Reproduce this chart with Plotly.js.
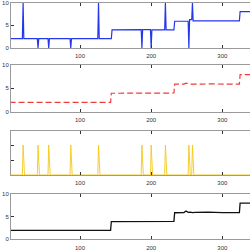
<!DOCTYPE html>
<html>
<head>
<meta charset="utf-8">
<script src="https://cdn.plot.ly/plotly-3.0.1.min.js"></script>
<style>
  html, body { margin: 0; padding: 0; background: #fff; overflow: hidden; }
  #chart { width: 250px; height: 262px; }
</style>
</head>
<body>
<div id="chart"></div>
<script>
// Raw signal (with outliers)
const rawX = [1, 19, 20, 21, 40, 41, 42, 55, 56, 57, 86, 87, 88, 125, 126, 127, 144, 145,
              186, 187, 188, 199, 200, 201, 219, 220, 221, 232, 233, 252, 253, 254, 257, 258, 259,
              270, 275, 280, 324, 325, 345];
const rawY = [2.05, 2.05, 10, 2.05, 2.05, 0, 2.05, 2.05, 0, 2.05, 2.05, 0, 2.05, 2.05, 10, 2.05, 2.05, 4.0,
              4.05, 0, 4.05, 4.05, 0, 4.0, 4.0, 10, 4.0, 4.0, 5.9, 5.9, 0, 6.25, 6.25, 10, 6.0,
              6.0, 6.1, 6.0, 6.0, 8.05, 8.05];

// Median-filtered signal
const medX = [1, 60, 62, 110, 143, 144, 190, 195, 232, 233, 246, 249, 252, 256, 270, 280, 324, 325, 345];
const medY = [2.0, 2.0, 2.05, 2.0, 2.0, 3.95, 3.95, 4.0, 4.0, 5.9, 5.9, 6.1, 6.0, 5.9, 5.9, 5.95, 5.9, 7.95, 7.95];

// Outlier positions (flag = 1)
const outlierX = [20, 41, 56, 87, 126, 187, 200, 220, 253, 258];
const flagX = [];
for (let i = 1; i <= 345; i++) flagX.push(i);
const flagY = flagX.map(v => outlierX.includes(v) ? 1 : 0);

// Cleaned signal
const cleanX = [1, 21, 23, 25, 54, 56, 58, 79, 81, 83, 106, 108, 110, 143, 144, 170, 172, 190, 195, 232, 233,
                240, 246, 249, 252, 255, 258, 262, 270, 280, 300, 324, 325, 345];
const cleanY = [2.0, 2.0, 2.12, 2.0, 2.0, 2.12, 2.0, 2.0, 2.12, 2.0, 2.0, 2.12, 2.0, 2.0, 3.95, 3.95, 4.05, 4.0, 4.05, 4.0, 5.9,
                5.85, 5.95, 6.3, 6.0, 6.05, 5.95, 6.0, 5.95, 6.05, 5.95, 5.95, 8.05, 8.05];

const xTicks = [100, 200, 300];
const yTicks = [0, 5, 10];
const flagTicks = [0.5, 1];

const lineCol = '#9a9a9a', tickCol = '#333';
const font = { family: 'Arial, Liberation Sans, sans-serif', size: 6, color: '#333' };

function xa(anchor) {
  return {
    anchor: anchor, range: [3, 338.9], tickvals: xTicks, ticks: 'inside', ticklen: 3,
    tickcolor: tickCol, showline: true, linecolor: lineCol, linewidth: 1, mirror: 'ticks',
    showgrid: false, zeroline: false, tickfont: font, ticklabeloverflow: 'allow',
    ticklabelstandoff: 2
  };
}
function ya(domain, range, ticks, labels) {
  return {
    domain: domain, range: range, tickvals: ticks, ticks: 'inside', ticklen: 3,
    tickcolor: tickCol, showline: true, linecolor: lineCol, linewidth: 1, mirror: false,
    showgrid: false, zeroline: false, showticklabels: labels, tickfont: font,
    ticklabeloverflow: 'allow'
  };
}

const traces = [
  { x: rawX, y: rawY, xaxis: 'x', yaxis: 'y', mode: 'lines', line: { color: '#2436ee', width: 1.2 } },
  { x: medX, y: medY, xaxis: 'x2', yaxis: 'y2', mode: 'lines', line: { color: '#f03c3c', width: 1.2, dash: '6px,3px' } },
  { x: flagX, y: flagY, xaxis: 'x3', yaxis: 'y3', mode: 'lines', line: { color: '#f5c816', width: 0.9 } },
  { x: cleanX, y: cleanY, xaxis: 'x4', yaxis: 'y4', mode: 'lines', line: { color: '#111', width: 1.3 } }
];

// The figure is a little taller than the window so the lowest tick labels sit at the bottom edge.
const layout = {
  width: 250, height: 262,
  margin: { l: 11, r: 0, t: 0, b: 0, pad: 0 },
  paper_bgcolor: '#fff', plot_bgcolor: '#fff',
  showlegend: false,
  xaxis: xa('y'), xaxis2: xa('y2'), xaxis3: xa('y3'), xaxis4: xa('y4'),
  yaxis: ya([0.8168, 0.9897], [0, 10], yTicks, true),
  yaxis2: ya([0.5737, 0.7519], [0, 10], yTicks, true),
  yaxis3: ya([0.3321, 0.5011], [0, 1.48], flagTicks, false),
  yaxis4: ya([0.0866, 0.2584], [0, 10], yTicks, true)
};

Plotly.newPlot('chart', traces, layout, { staticPlot: true, displayModeBar: false });
</script>
</body>
</html>
